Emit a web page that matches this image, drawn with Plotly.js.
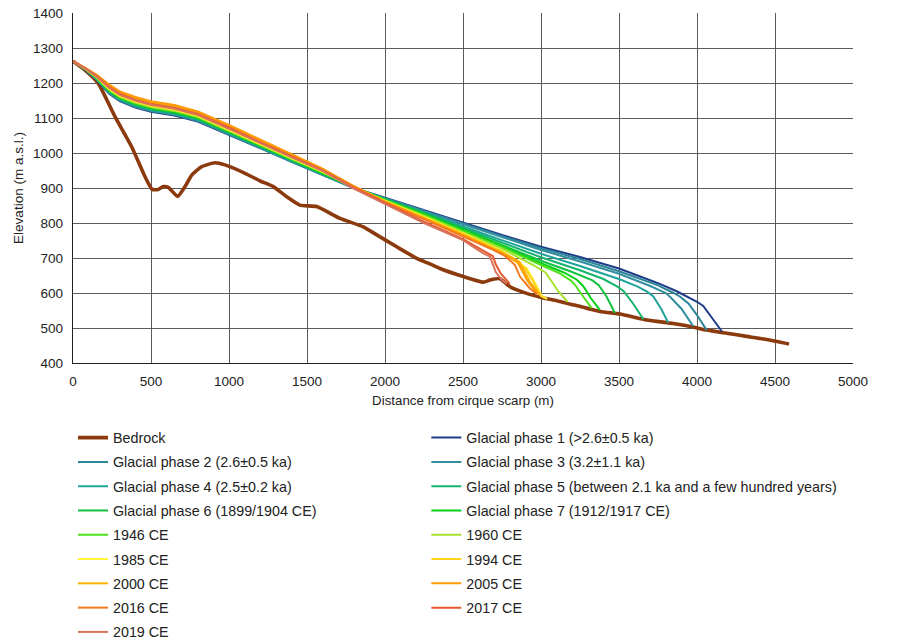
<!DOCTYPE html>
<html>
<head>
<meta charset="utf-8">
<script src="https://cdn.plot.ly/plotly-3.0.1.min.js"></script>
<style>html,body{margin:0;padding:0;background:#fff;}#chart{width:897px;height:641px;}</style>
</head>
<body>
<div id="chart"></div>
<script>
// ---------- DATA ----------
const bedrockX = [0, 77, 162, 269, 376, 462, 508, 547, 579, 611, 671, 718, 761, 825, 910, 974, 1103, 1200, 1284, 1370, 1455, 1562, 1712, 1861, 1947, 2075, 2203, 2288, 2353, 2502, 2630, 2673, 2737, 2801, 2908, 3015, 3100, 3165, 3378, 3506, 3677, 3848, 3976, 4062, 4190, 4318, 4447, 4590];
const bedrockY = [1262, 1237, 1199, 1104, 1018, 932, 896, 896, 904, 902, 876, 904, 937, 961, 972, 966, 942, 920, 904, 875, 851, 847, 813, 789, 766, 732, 699, 683, 670, 647, 631, 637, 641, 618, 599, 586, 578, 571, 547, 540, 523, 513, 503, 494, 485, 476, 467, 454];

const gp1X = [0, 80, 150, 230, 300, 400, 500, 650, 800, 1000, 1200, 1400, 1600, 1800, 2000, 2250, 2500, 2750, 3000, 3250, 3500, 3750, 3870, 4000, 4040, 4100, 4160];
const gp1Y = [1262, 1238, 1210, 1170, 1148, 1130, 1118, 1107, 1090, 1052, 1012, 974, 937, 900, 872, 836, 800, 766, 732, 703, 670, 628, 605, 575, 563, 525, 490];

const gp2X = [0, 80, 150, 230, 300, 400, 500, 650, 800, 1000, 1200, 1400, 1600, 1800, 2000, 2250, 2500, 2750, 3000, 3250, 3500, 3750, 3850, 3890, 3945, 4000, 4062];
const gp2Y = [1262, 1238, 1211, 1172, 1150, 1132, 1120, 1109, 1092, 1054, 1014, 975, 938, 900, 871, 834, 797, 762, 728, 697, 662, 622, 600, 590, 570, 537, 494];

const gp3X = [0, 80, 150, 230, 300, 400, 500, 650, 800, 1000, 1200, 1400, 1600, 1800, 2000, 2250, 2500, 2750, 3000, 3250, 3500, 3700, 3800, 3830, 3900, 3976];
const gp3Y = [1262, 1239, 1211, 1173, 1151, 1133, 1121, 1110, 1093, 1055, 1015, 976, 939, 900, 870, 833, 795, 759, 723, 690, 655, 620, 600, 588, 555, 505];

const gp4X = [0, 80, 150, 230, 300, 400, 500, 650, 800, 1000, 1200, 1400, 1600, 1800, 2000, 2250, 2500, 2750, 3000, 3250, 3500, 3620, 3680, 3720, 3770, 3816];
const gp4Y = [1262, 1239, 1212, 1174, 1153, 1135, 1123, 1112, 1095, 1057, 1016, 978, 940, 901, 869, 831, 790, 752, 712, 677, 640, 618, 604, 590, 555, 515];

const gp5X = [0, 80, 150, 230, 300, 400, 500, 650, 800, 1000, 1200, 1400, 1600, 1800, 2000, 2250, 2500, 2750, 3000, 3250, 3400, 3490, 3530, 3590, 3656];
const gp5Y = [1262, 1239, 1213, 1176, 1154, 1137, 1125, 1114, 1097, 1058, 1018, 979, 941, 901, 868, 829, 786, 745, 702, 665, 640, 618, 605, 570, 525];

const gp6X = [0, 80, 150, 230, 300, 400, 500, 650, 800, 1000, 1200, 1400, 1600, 1800, 2000, 2250, 2500, 2750, 3000, 3200, 3330, 3370, 3420, 3474];
const gp6Y = [1262, 1240, 1214, 1178, 1156, 1139, 1127, 1116, 1099, 1060, 1020, 981, 942, 902, 867, 827, 782, 738, 692, 660, 636, 622, 590, 543];

const gp7X = [0, 80, 150, 230, 300, 400, 500, 650, 800, 1000, 1200, 1400, 1600, 1800, 2000, 2250, 2500, 2750, 3000, 3150, 3230, 3270, 3320, 3378];
const gp7Y = [1262, 1240, 1215, 1179, 1158, 1141, 1129, 1118, 1100, 1062, 1021, 982, 943, 902, 866, 825, 780, 734, 685, 658, 638, 620, 585, 551];

const y1946X = [0, 80, 150, 230, 300, 400, 500, 650, 800, 1000, 1200, 1400, 1600, 1800, 2000, 2250, 2500, 2750, 3000, 3120, 3190, 3220, 3270, 3325];
const y1946Y = [1262, 1240, 1216, 1180, 1159, 1142, 1130, 1119, 1102, 1063, 1022, 983, 944, 902, 865, 823, 778, 731, 680, 656, 636, 622, 590, 557];

const y1960X = [0, 80, 150, 230, 300, 400, 500, 650, 800, 1000, 1200, 1400, 1600, 1800, 2000, 2250, 2500, 2750, 2950, 3030, 3070, 3110, 3170];
const y1960Y = [1262, 1240, 1217, 1182, 1161, 1144, 1132, 1121, 1104, 1065, 1024, 984, 946, 902, 864, 820, 774, 726, 680, 658, 632, 605, 575];

const y1985X = [0, 80, 150, 230, 300, 400, 500, 650, 800, 1000, 1200, 1400, 1600, 1800, 2000, 2250, 2500, 2750, 2865, 2908, 2951, 3004, 3040];
const y1985Y = [1262, 1241, 1218, 1184, 1163, 1147, 1135, 1124, 1106, 1067, 1026, 986, 947, 903, 863, 817, 770, 720, 684, 671, 638, 592, 583];

const y1994X = [0, 80, 150, 230, 300, 400, 500, 650, 800, 1000, 1200, 1400, 1600, 1800, 2000, 2250, 2500, 2750, 2860, 2900, 2945, 2998, 3025];
const y1994Y = [1262, 1241, 1218, 1186, 1165, 1148, 1136, 1125, 1107, 1069, 1028, 987, 948, 903, 862, 816, 769, 718, 683, 670, 637, 592, 585];

const y2000X = [0, 80, 150, 230, 300, 400, 500, 650, 800, 1000, 1200, 1400, 1600, 1800, 2000, 2250, 2500, 2750, 2801, 2865, 2929, 2994];
const y2000Y = [1262, 1243, 1223, 1193, 1173, 1157, 1145, 1134, 1116, 1077, 1035, 994, 953, 905, 861, 814, 767, 716, 705, 688, 632, 594];

const y2005X = [0, 80, 150, 230, 300, 400, 500, 650, 800, 1000, 1200, 1400, 1600, 1800, 2000, 2250, 2500, 2750, 2790, 2850, 2915, 2980];
const y2005Y = [1262, 1243, 1224, 1196, 1176, 1160, 1148, 1137, 1119, 1080, 1038, 996, 955, 905, 860, 813, 765, 713, 704, 688, 634, 597];

const y2016X = [0, 80, 150, 230, 300, 400, 500, 650, 800, 1000, 1200, 1400, 1600, 1800, 2000, 2250, 2500, 2700, 2769, 2833, 2865, 2929, 2972];
const y2016Y = [1262, 1242, 1221, 1190, 1170, 1153, 1141, 1130, 1113, 1074, 1032, 991, 951, 904, 859, 811, 762, 722, 706, 680, 647, 613, 598];

const y2017X = [0, 80, 150, 230, 300, 400, 500, 650, 800, 1000, 1200, 1400, 1600, 1800, 2000, 2250, 2500, 2600, 2692, 2710, 2740, 2800];
const y2017Y = [1262, 1242, 1220, 1188, 1168, 1151, 1139, 1128, 1110, 1072, 1030, 989, 950, 900, 857, 804, 754, 729, 705, 682, 657, 626];

const y2019X = [0, 80, 150, 230, 300, 400, 500, 650, 800, 1000, 1200, 1400, 1600, 1800, 2000, 2250, 2500, 2630, 2673, 2690, 2710, 2750, 2780];
const y2019Y = [1262, 1241, 1219, 1187, 1166, 1150, 1138, 1127, 1109, 1070, 1029, 988, 949, 898, 855, 800, 751, 713, 704, 682, 660, 637, 627];

const seriesNames = ["Bedrock", "Glacial phase 1 (>2.6±0.5 ka)", "Glacial phase 2 (2.6±0.5 ka)", "Glacial phase 3 (3.2±1.1 ka)", "Glacial phase 4 (2.5±0.2 ka)", "Glacial phase 5 (between 2.1 ka and a few hundred years)", "Glacial phase 6 (1899/1904 CE)", "Glacial phase 7 (1912/1917 CE)", "1946 CE", "1960 CE", "1985 CE", "1994 CE", "2000 CE", "2005 CE", "2016 CE", "2017 CE", "2019 CE"];

const xTickVals = [0, 500, 1000, 1500, 2000, 2500, 3000, 3500, 4000, 4500, 5000];
const yTickVals = [400, 500, 600, 700, 800, 900, 1000, 1100, 1200, 1300, 1400];

// ---------- STYLE ----------
const xs = [bedrockX, gp1X, gp2X, gp3X, gp4X, gp5X, gp6X, gp7X, y1946X, y1960X, y1985X, y1994X, y2000X, y2005X, y2016X, y2017X, y2019X];
const ys = [bedrockY, gp1Y, gp2Y, gp3Y, gp4Y, gp5Y, gp6Y, gp7Y, y1946Y, y1960Y, y1985Y, y1994Y, y2000Y, y2005Y, y2016Y, y2017Y, y2019Y];
const colors = ["#8B3A0E", "#1F3C88", "#2C8597", "#338FA0", "#1FA39A", "#16B46C", "#12C23E", "#08CF1A", "#4FDF1C", "#A8E22C", "#FFF533", "#FFD21F", "#FFB300", "#FF9A00", "#F47A1F", "#E8572E", "#D9735C"];

const traces = seriesNames.map((n, i) => ({
  type: "scatter", mode: "lines", name: n, x: xs[i], y: ys[i],
  legend: (i % 2 === 0) ? "legend" : "legend2",
  legendgroup: "g" + i,
  line: {color: colors[i], width: i === 0 ? 3.6 : 2, shape: i === 0 ? "spline" : "linear", smoothing: 0.5},
  hoverinfo: "skip"
}));

const gridColor = "#5c5c5c";
const legendCommon = {
  orientation: "v", yanchor: "top", xanchor: "left",
  font: {size: 14.3, color: "#222"}, itemwidth: 30, traceorder: "grouped",
  tracegroupgap: 2.7, bgcolor: "rgba(0,0,0,0)"
};
const layout = {
  width: 897, height: 641,
  paper_bgcolor: "#fff", plot_bgcolor: "#fff",
  margin: {l: 73, r: 44, t: 13, b: 278, autoexpand: false},
  font: {family: "Liberation Sans, Arial, sans-serif", color: "#222", size: 13},
  showlegend: true,
  xaxis: {
    range: [0, 5000], tickvals: xTickVals, ticks: "", showgrid: true, gridcolor: gridColor, gridwidth: 1,
    zeroline: false, showline: true, linecolor: "#222", linewidth: 1.3, mirror: false,
    tickfont: {size: 13.5, color: "#222"}, ticklabelstandoff: 5,
    title: {text: "Distance from cirque scarp (m)", font: {size: 13.3, color: "#222"}, standoff: 8}
  },
  yaxis: {
    range: [400, 1400], tickvals: yTickVals, ticks: "", showgrid: true, gridcolor: gridColor, gridwidth: 1,
    zeroline: false, showline: true, linecolor: "#222", linewidth: 1.3,
    tickfont: {size: 13.5, color: "#222"}, ticklabelstandoff: 6,
    title: {text: "Elevation (m a.s.l.)", font: {size: 13.5, color: "#222"}, standoff: 6}
  },
  legend: Object.assign({}, legendCommon, {x: 0.0, y: -0.168}),
  legend2: Object.assign({}, legendCommon, {x: 0.453, y: -0.168})
};

Plotly.newPlot("chart", traces, layout, {displayModeBar: false, staticPlot: true});
</script>
</body>
</html>
